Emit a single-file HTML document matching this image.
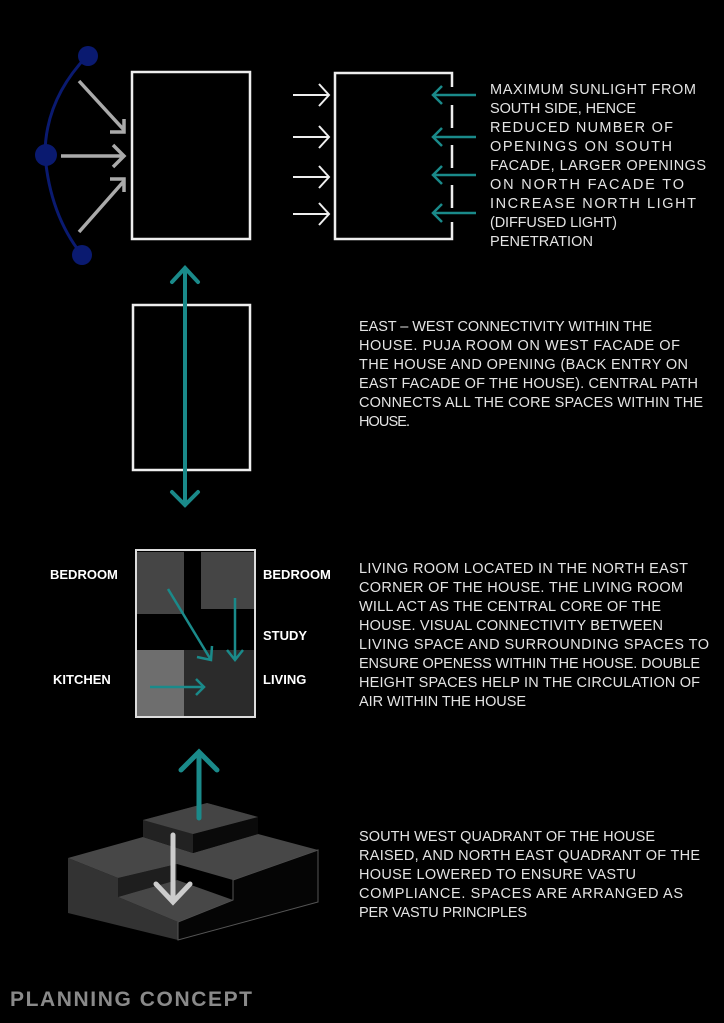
<!DOCTYPE html>
<html><head><meta charset="utf-8"><style>
html,body{margin:0;padding:0;background:#000;}
svg{display:block;}
.t{font-family:"Liberation Sans",sans-serif;font-size:14.5px;fill:#e4e4e4;}
.l{font-family:"Liberation Sans",sans-serif;font-size:13px;font-weight:bold;fill:#fff;}
</style></head><body>
<svg width="724" height="1023" viewBox="0 0 724 1023" xmlns="http://www.w3.org/2000/svg">
<rect width="724" height="1023" fill="#000"/>
<path d="M87,56 Q45,100 45,155 Q50,215 82,255" fill="none" stroke="#0a1a70" stroke-width="3"/>
<circle cx="88" cy="56" r="10" fill="#0a1a70"/>
<circle cx="46" cy="155" r="11" fill="#0a1a70"/>
<circle cx="82" cy="255" r="10" fill="#0a1a70"/>
<g stroke="#aaa" stroke-width="3.5" fill="none">
<path d="M79,81 L124,130 M110,132 L124,132 L124,119"/>
<path d="M61,156 L123,156 M113,145 L124,156 L113,167"/>
<path d="M79,232 L124,181 M110,179 L124,179 L124,192"/>
</g>
<rect x="132" y="72" width="118" height="167" fill="none" stroke="#eee" stroke-width="2.5"/>
<path d="M452,87 L452,73 L335,73 L335,239 L452,239 L452,222" fill="none" stroke="#eee" stroke-width="2.5"/>
<g stroke="#eee" stroke-width="2.5"><line x1="452" y1="105" x2="452" y2="128"/><line x1="452" y1="145" x2="452" y2="168"/><line x1="452" y1="185" x2="452" y2="208"/></g>
<g stroke="#eee" stroke-width="2" fill="none">
<path d="M293,95 L329,95 M319,84 L329,95 L319,106"/>
<path d="M293,137 L329,137 M319,126 L329,137 L319,148"/>
<path d="M293,177 L329,177 M319,166 L329,177 L319,188"/>
<path d="M293,214 L329,214 M319,203 L329,214 L319,225"/>
</g>
<g stroke="#1a8a8a" stroke-width="2.5" fill="none">
<path d="M476,95 L433,95 M442,86 L433,95 L442,104"/>
<path d="M476,137 L433,137 M442,128 L433,137 L442,146"/>
<path d="M476,175 L433,175 M442,166 L433,175 L442,184"/>
<path d="M476,213 L433,213 M442,204 L433,213 L442,222"/>
</g>
<text class="t" x="490" y="94" textLength="206">MAXIMUM SUNLIGHT FROM</text>
<text class="t" x="490" y="113" textLength="146">SOUTH SIDE, HENCE</text>
<text class="t" x="490" y="132" textLength="183">REDUCED NUMBER OF</text>
<text class="t" x="490" y="151" textLength="182">OPENINGS ON SOUTH</text>
<text class="t" x="490" y="170" textLength="216">FACADE, LARGER OPENINGS</text>
<text class="t" x="490" y="189" textLength="194">ON NORTH FACADE TO</text>
<text class="t" x="490" y="208" textLength="206">INCREASE NORTH LIGHT</text>
<text class="t" x="490" y="227" textLength="127">(DIFFUSED LIGHT)</text>
<text class="t" x="490" y="246" textLength="103">PENETRATION</text>
<rect x="133" y="305" width="117" height="165" fill="none" stroke="#eee" stroke-width="2.5"/>
<g stroke="#1a8a8a" stroke-width="4" fill="none" stroke-linecap="round">
<path d="M185,268 L185,505 M172,282 L185,268 L198,282 M172,492 L185,505 L198,492"/>
</g>
<text class="t" x="359" y="331" textLength="293">EAST – WEST CONNECTIVITY WITHIN THE</text>
<text class="t" x="359" y="350" textLength="321">HOUSE. PUJA ROOM ON WEST FACADE OF</text>
<text class="t" x="359" y="369" textLength="329">THE HOUSE AND OPENING (BACK ENTRY ON</text>
<text class="t" x="359" y="388" textLength="339">EAST FACADE OF THE HOUSE). CENTRAL PATH</text>
<text class="t" x="359" y="407" textLength="344">CONNECTS ALL THE CORE SPACES WITHIN THE</text>
<text class="t" x="359" y="426" textLength="51">HOUSE.</text>
<rect x="137" y="551" width="117" height="165" fill="#000"/>
<rect x="137" y="552" width="47" height="62" fill="#454545"/>
<rect x="201" y="552" width="53" height="57" fill="#454545"/>
<rect x="137" y="650" width="47" height="66" fill="#6e6e6e"/>
<rect x="184" y="650" width="70" height="66" fill="#2b2b2b"/>
<rect x="136" y="550" width="119" height="167" fill="none" stroke="#ddd" stroke-width="2"/>
<g stroke="#1a8a8a" stroke-width="2.5" fill="none">
<path d="M168,589 L211,660 M197,657 L211,660 L212,646"/>
<path d="M235,598 L235,660 M227,650 L235,660 L243,650"/>
<path d="M150,687 L204,687 M196,679 L204,687 L196,695"/>
</g>
<text class="l" x="50" y="579">BEDROOM</text>
<text class="l" x="263" y="579">BEDROOM</text>
<text class="l" x="263" y="640">STUDY</text>
<text class="l" x="53" y="684">KITCHEN</text>
<text class="l" x="263" y="684">LIVING</text>
<text class="t" x="359" y="573" textLength="329">LIVING ROOM LOCATED IN THE NORTH EAST</text>
<text class="t" x="359" y="592" textLength="324">CORNER OF THE HOUSE. THE LIVING ROOM</text>
<text class="t" x="359" y="611" textLength="302">WILL ACT AS THE CENTRAL CORE OF THE</text>
<text class="t" x="359" y="630" textLength="304">HOUSE. VISUAL CONNECTIVITY BETWEEN</text>
<text class="t" x="359" y="649" textLength="350">LIVING SPACE AND SURROUNDING SPACES TO</text>
<text class="t" x="359" y="668" textLength="341">ENSURE OPENESS WITHIN THE HOUSE. DOUBLE</text>
<text class="t" x="359" y="687" textLength="341">HEIGHT SPACES HELP IN THE CIRCULATION OF</text>
<text class="t" x="359" y="706" textLength="167">AIR WITHIN THE HOUSE</text>
<polygon points="68,858 68,913 178,940 178,922 118,897 118,878" fill="#333"/>
<polygon points="178,922 233,900 233,880 318,850 318,902 178,940" fill="#050505" stroke="#555" stroke-width="1"/>
<polygon points="118,878 177,864 177,880 118,897" fill="#1e1e1e"/>
<polygon points="118,897 177,880 233,900 178,922" fill="#474747"/>
<polygon points="68,858 143,837 193,853 258,834 318,850 233,880 177,864 118,878" fill="#474747"/>
<polygon points="143,820 207,803 258,817 258,834 193,853 143,837" fill="#222"/>
<polygon points="193,834 258,817 258,834 193,853" fill="#0a0a0a"/>
<polygon points="143,820 207,803 258,817 193,834" fill="#444"/>
<g stroke="#1a8a8a" stroke-width="5" fill="none" stroke-linecap="round">
<path d="M199,818 L199,752 M181,770 L199,752 L217,770"/>
</g>
<g stroke="#ccc" stroke-width="5" fill="none" stroke-linecap="round">
<path d="M173,835 L173,902 M156,884 L173,902 L190,884"/>
</g>
<text class="t" x="359" y="841" textLength="296">SOUTH WEST QUADRANT OF THE HOUSE</text>
<text class="t" x="359" y="860" textLength="341">RAISED, AND NORTH EAST QUADRANT OF THE</text>
<text class="t" x="359" y="879" textLength="277">HOUSE LOWERED TO ENSURE VASTU</text>
<text class="t" x="359" y="898" textLength="324">COMPLIANCE. SPACES ARE ARRANGED AS</text>
<text class="t" x="359" y="917" textLength="168">PER VASTU PRINCIPLES</text>
<text x="10" y="1006" textLength="242" style="font-family:'Liberation Sans',sans-serif;font-weight:bold;font-size:21px;fill:#8a8a8a;">PLANNING CONCEPT</text>
</svg>
</body></html>
